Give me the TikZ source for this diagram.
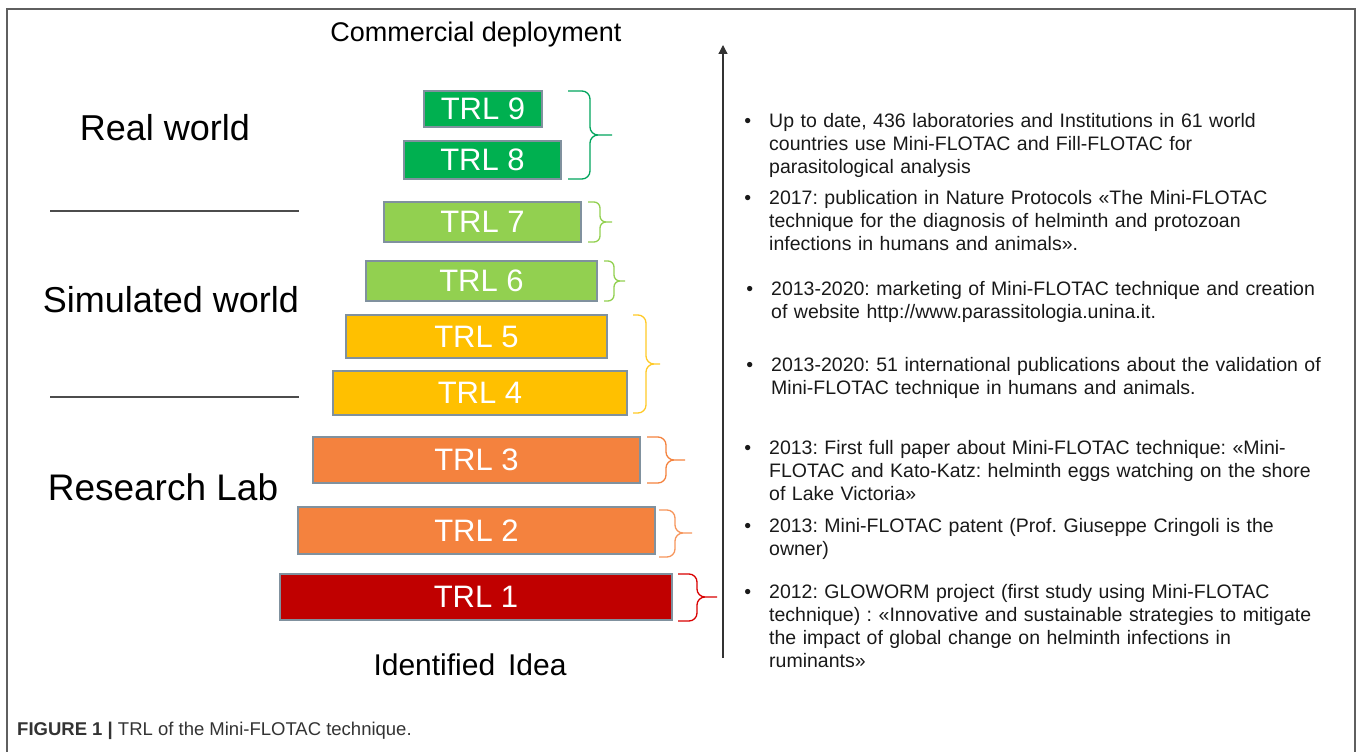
\documentclass[tikz,border=0pt]{standalone}
\usepackage{fontspec}
\setmainfont{Liberation Sans}
\usetikzlibrary{arrows.meta}
\frenchspacing

\definecolor{trlnine}{RGB}{0,176,80}
\definecolor{trlseven}{RGB}{146,208,80}
\definecolor{trlfive}{RGB}{255,192,0}
\definecolor{trlthree}{RGB}{244,130,62}
\definecolor{trlone}{RGB}{192,0,0}
\definecolor{boxgray}{RGB}{128,145,158}
\definecolor{framegray}{RGB}{95,95,95}

\begin{document}
\begin{tikzpicture}[x=1pt,y=-1pt]
        \tikzstyle{trl}=[draw=boxgray, line width=2pt, text=white, inner sep=0pt, font=\fontsize{31}{31}\selectfont]
        \tikzstyle{trlbrace}=[line width=1.3pt, rounded corners=8pt]
        \tikzstyle{world}=[font=\fontsize{36}{40}\selectfont]
        \tikzstyle{note}=[anchor=north west, inner sep=0pt, text width=580pt, align=left, text=black!90, font=\fontsize{19.5}{23.2}\selectfont]
        \tikzstyle{sep}=[draw=black!70, line width=1.2pt]
        \useasboundingbox (0,0) rectangle (1358,752);
        % frame
        \draw[framegray, line width=2pt] (7,752) -- (7,9) -- (1355,9) -- (1355,752);
        % TRL levels
        \node[trl, fill=trlnine, minimum width=118pt, minimum height=36pt] (t9) at (483,109) {TRL 9};
        \node[trl, fill=trlnine, minimum width=157pt, minimum height=38pt] (t8) at (482.5,160) {TRL 8};
        \node[trl, fill=trlseven, minimum width=197pt, minimum height=40pt] (t7) at (482.5,222) {TRL 7};
        \node[trl, fill=trlseven, minimum width=231pt, minimum height=40pt] (t6) at (481.5,281) {TRL 6};
        \node[trl, fill=trlfive, minimum width=261pt, minimum height=43pt] (t5) at (476.5,336.5) {TRL 5};
        \node[trl, fill=trlfive, minimum width=294pt, minimum height=44pt] (t4) at (480,393) {TRL 4};
        \node[trl, fill=trlthree, minimum width=327pt, minimum height=46pt] (t3) at (476.5,460) {TRL 3};
        \node[trl, fill=trlthree, minimum width=357pt, minimum height=47pt] (t2) at (476.5,530.5) {TRL 2};
        \node[trl, fill=trlone, minimum width=392pt, minimum height=46pt] (t1) at (476,597) {TRL 1};
        % braces
        \draw[trlbrace, trlnine!75!teal] (568,91) -| (590,135) -- (612,135) (568,179) -| (590,135) -- (612,135);
        \draw[trlbrace, trlseven, rounded corners=6pt] (588,202) -| (600,222) -- (612,222) (588,242) -| (600,222) -- (612,222);
        \draw[trlbrace, trlseven, rounded corners=6pt] (604,261) -| (614,281) -- (625,281) (604,301) -| (614,281) -- (625,281);
        \draw[trlbrace, trlfive!85!white] (633,315) -| (646,364) -- (660,364) (633,413) -| (646,364) -- (660,364);
        \draw[trlbrace, trlthree] (647,437) -| (666,460) -- (685,460) (647,483) -| (666,460) -- (685,460);
        \draw[trlbrace, trlthree!85!white] (659,510) -| (675,533) -- (692,533) (659,557) -| (675,533) -- (692,533);
        \draw[trlbrace, red!85!black] (678,574) -| (697,597) -- (717,597) (678,621) -| (697,597) -- (717,597);
        % axis
        \coordinate (idea) at (723,658);
        \coordinate (market) at (723,45);
        \draw[black!80, line width=1.3pt, -{Triangle[width=9pt,length=9pt]}] (idea) -- (market);
        % labels
        \node[font=\fontsize{27}{30}\selectfont] (deploy) at (476,35) {Commercial deployment};
        \node[font=\fontsize{30}{32}\selectfont] (ident) at (470,665) {Identified\hspace{0.15em} Idea};
        \node[world] (real) at (165,128) {Real world};
        \node[world] (sim) at (171,300) {Simulated world};
        \node[world, font=\fontsize{37}{40}\selectfont] (lab) at (163,487) {Research Lab};
        \draw[sep] (50,211) -- (299,211);
        \draw[sep] (50,397) -- (299,397);
        % milestones
        \node[note] (n1) at (769,110.9) {\llap{\textbullet\hspace{18pt}}\strut Up to date, 436 laboratories and Institutions in 61 world\\ countries use Mini-FLOTAC and Fill-FLOTAC for\\ parasitological analysis};
        \node[note] (n2) at (769,187.9) {\llap{\textbullet\hspace{18pt}}\strut 2017: publication in Nature Protocols «The Mini-FLOTAC\\ technique for the diagnosis of helminth and protozoan\\ infections in humans and animals».};
        \node[note] (n3) at (771,278.9) {\llap{\textbullet\hspace{18pt}}\strut 2013-2020: marketing of Mini-FLOTAC technique and creation\\ of website http://www.parassitologia.unina.it.};
        \node[note] (n4) at (771,354.9) {\llap{\textbullet\hspace{18pt}}\strut 2013-2020: 51 international publications about the validation of\\ Mini-FLOTAC technique in humans and animals.};
        \node[note] (n5) at (769,437.9) {\llap{\textbullet\hspace{18pt}}\strut 2013: First full paper about Mini-FLOTAC technique: «Mini-\\ FLOTAC and Kato-Katz: helminth eggs watching on the shore\\ of Lake Victoria»};
        \node[note] (n6) at (769,515.9) {\llap{\textbullet\hspace{18pt}}\strut 2013: Mini-FLOTAC patent (Prof. Giuseppe Cringoli is the\\ owner)};
        \node[note] (n7) at (769,581.9) {\llap{\textbullet\hspace{18pt}}\strut 2012: GLOWORM project (first study using Mini-FLOTAC\\ technique) : «Innovative and sustainable strategies to mitigate\\ the impact of global change on helminth infections in\\ ruminants»};
        % caption
        \node[anchor=west, inner sep=0pt, text=black!80, font=\fontsize{18.5}{20}\selectfont] (cap) at (17,731) {\textbf{FIGURE 1 |} TRL of the Mini-FLOTAC technique.};
    \end{tikzpicture}
\end{document}
